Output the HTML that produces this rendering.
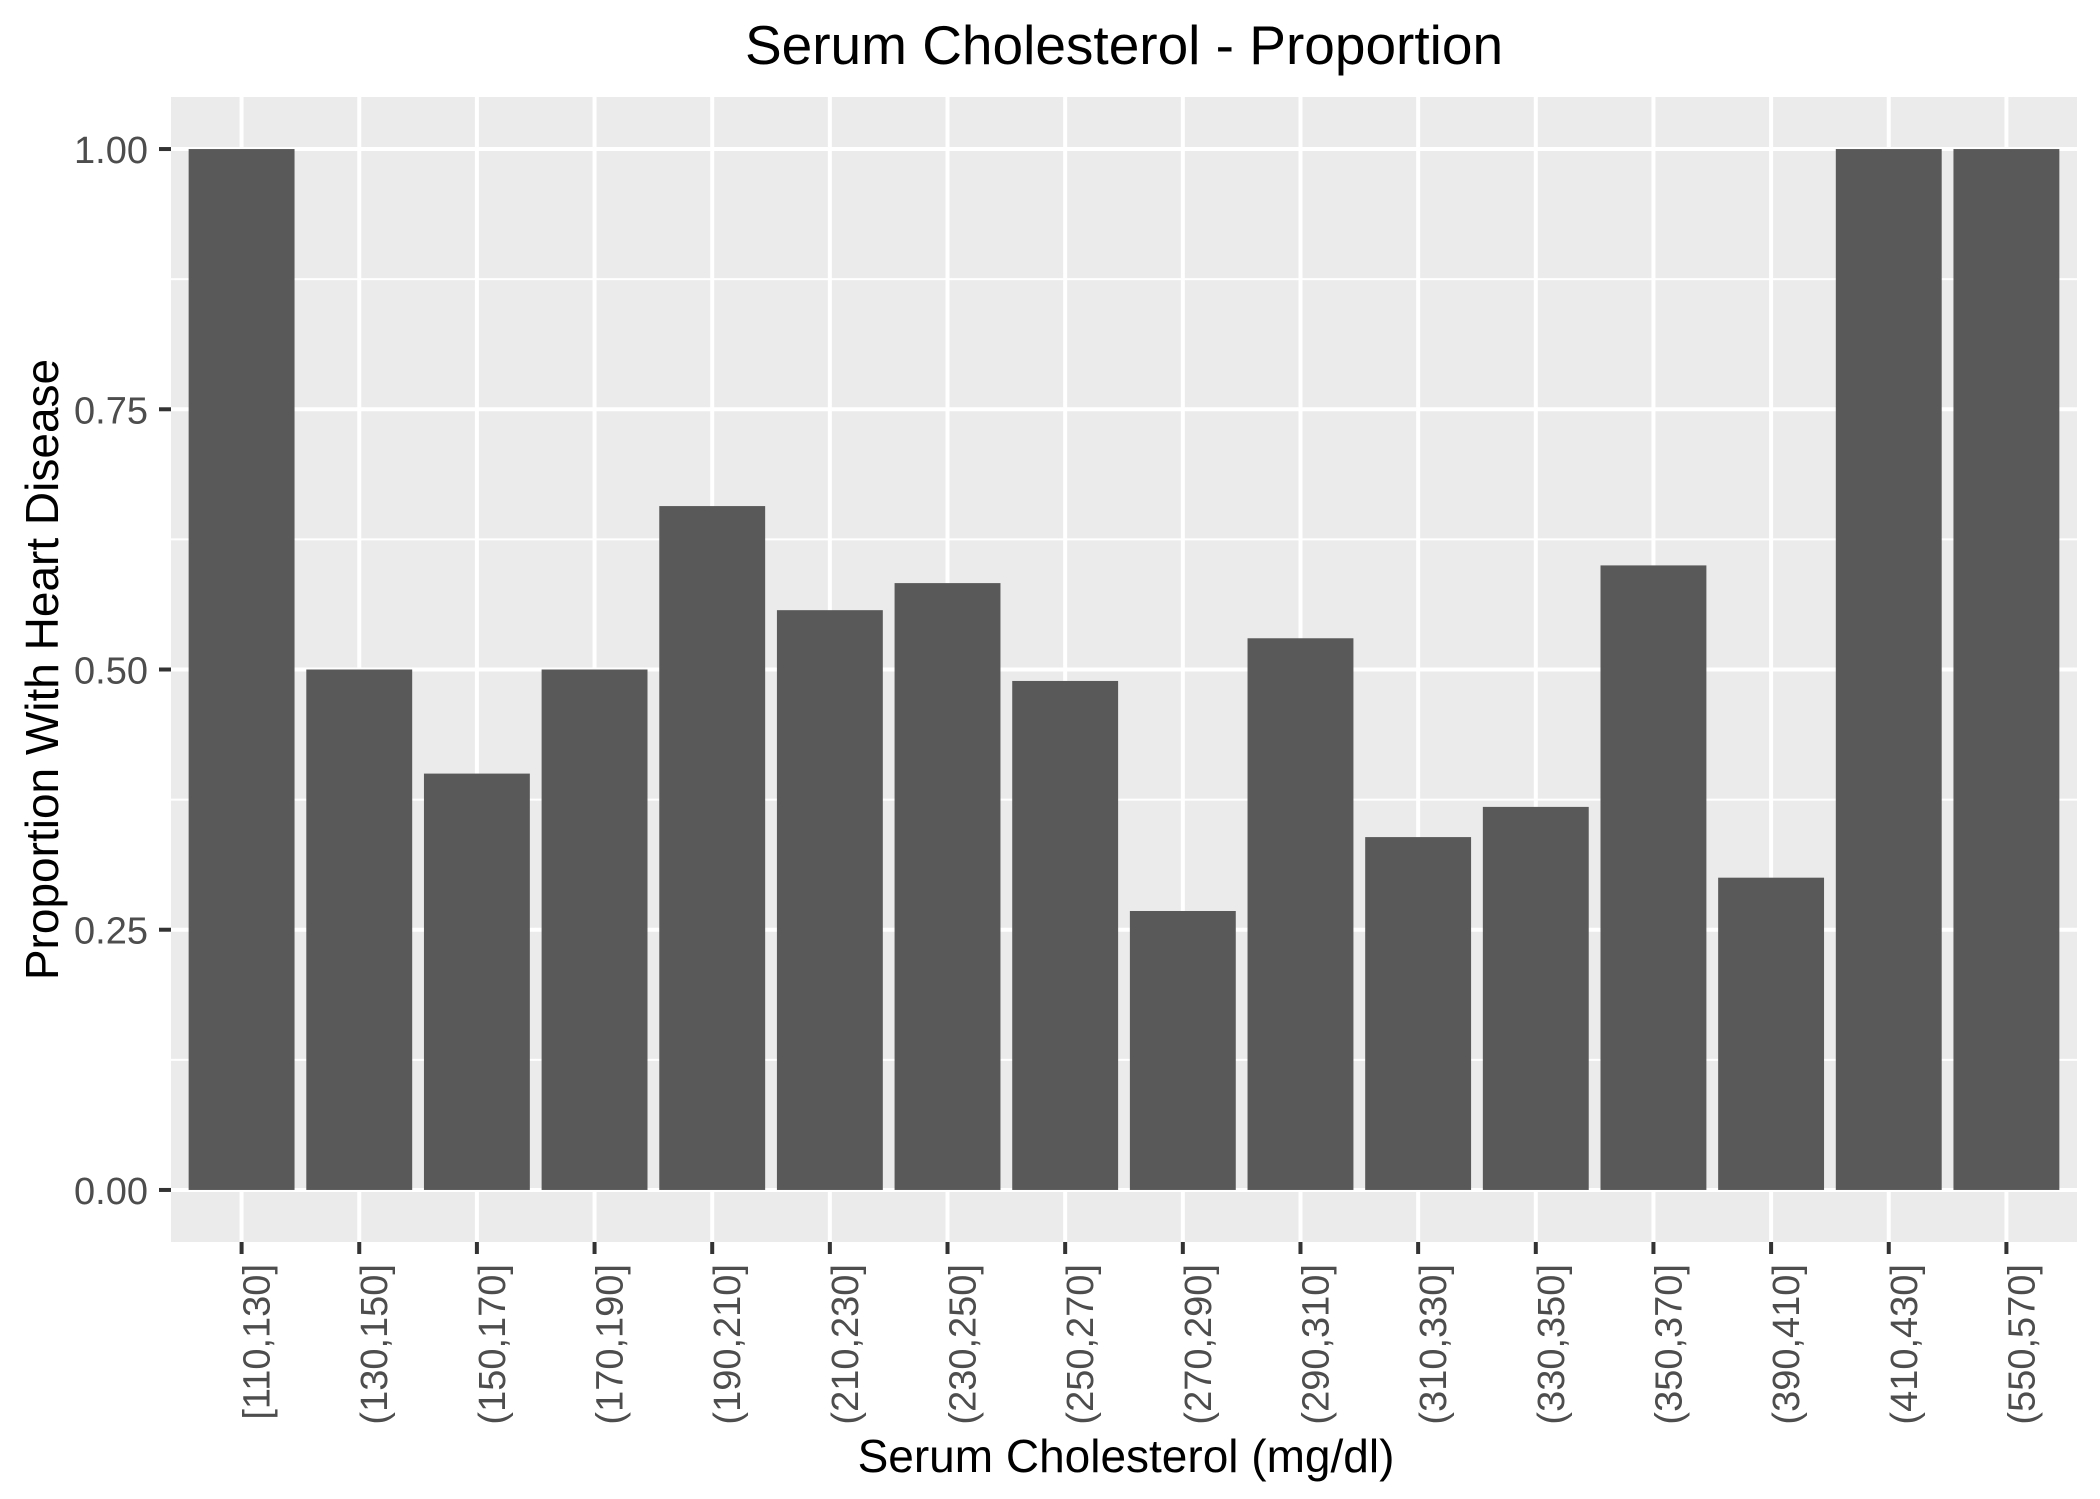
<!DOCTYPE html>
<html><head><meta charset="utf-8"><style>
html,body{margin:0;padding:0;background:#fff}
svg{display:block;font-family:"Liberation Sans",Arial,sans-serif}
</style></head><body>
<svg id="chart" width="2100" height="1499" viewBox="0 0 2100 1499">
<rect x="0" y="0" width="2100" height="1499" fill="#fff"/>
<text x="1124" y="64" font-size="55" text-anchor="middle" fill="#000">Serum Cholesterol - Proportion</text>
<g id="panel"></g>
<text transform="translate(58,669.5) rotate(-90)" font-size="46" text-anchor="middle" fill="#000">Proportion With Heart Disease</text>
<text x="1126" y="1472" font-size="46" text-anchor="middle" fill="#000">Serum Cholesterol (mg/dl)</text>
</svg>
<script>
const categories = ["[110,130]","(130,150]","(150,170]","(170,190]","(190,210]","(210,230]","(230,250]","(250,270]","(270,290]","(290,310]","(310,330]","(330,350]","(350,370]","(390,410]","(410,430]","(550,570]"];
const proportions = [1.0,0.5,0.4,0.5,0.657,0.557,0.583,0.489,0.268,0.53,0.339,0.368,0.6,0.3,1.0,1.0];
const yTicks = [0,0.25,0.5,0.75,1.0];
const yTickLabels = ["0.00","0.25","0.50","0.75","1.00"];

const NS="http://www.w3.org/2000/svg";
const L=171,R=2077,T=97,B=1242;
const yMin=-0.05,yMax=1.05;
const n=categories.length;
const step=(R-L)/(n+0.2);
function xPos(i){return L+step*(0.6+i);}
function yPos(v){return B-(v-yMin)/(yMax-yMin)*(B-T);}
const g=document.getElementById('panel');
function mk(tag,attrs,parent){const e=document.createElementNS(NS,tag);for(const k in attrs)e.setAttribute(k,attrs[k]);(parent||g).appendChild(e);return e;}

const bg=mk('rect',{x:L,y:T,width:R-L,height:B-T,fill:'#EBEBEB'});


for(let i=0;i<yTicks.length-1;i++){
  const v=(yTicks[i]+yTicks[i+1])/2;
  const ln=mk('line',{x1:L,x2:R,y1:yPos(v),y2:yPos(v),stroke:'#fff','stroke-width':2});
  
  
}
yTicks.forEach((v,i)=>{
  const ln=mk('line',{x1:L,x2:R,y1:yPos(v),y2:yPos(v),stroke:'#fff','stroke-width':4});
  
  
  const tk=mk('line',{x1:159,x2:L,y1:yPos(v),y2:yPos(v),stroke:'#333','stroke-width':4});
  
  
  const t=mk('text',{x:148,y:yPos(v)+14,'font-size':38,'text-anchor':'end',fill:'#4D4D4D'});
  t.textContent=yTickLabels[i];
  
  
});
categories.forEach((c,i)=>{
  const x=xPos(i);
  const ln=mk('line',{x1:x,x2:x,y1:T,y2:B,stroke:'#fff','stroke-width':4});
  
  
});
categories.forEach((c,i)=>{
  const x=xPos(i),w=step*0.9;
  const b=mk('rect',{x:x-w/2,y:yPos(proportions[i]),width:w,height:yPos(0)-yPos(proportions[i]),fill:'#595959'});
  
  
  const tk=mk('line',{x1:x,x2:x,y1:B,y2:B+12,stroke:'#333','stroke-width':4});
  
  
  const t=mk('text',{transform:'translate('+(x+28)+',1264) rotate(-90)','font-size':38,'text-anchor':'end',fill:'#4D4D4D'});
  t.textContent=c;
  
  
});
</script>
</body></html>
